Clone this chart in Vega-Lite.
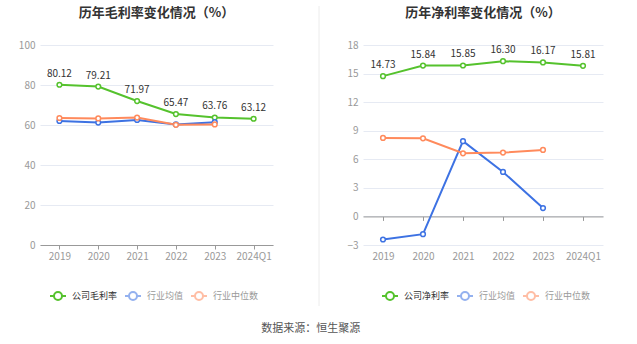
{
  "$schema": "https://vega.github.io/schema/vega-lite/v6.json",
  "padding": {"left": 18, "top": 5, "right": 5, "bottom": 5},
  "background": "white",
  "config": {
    "font": "Noto Sans CJK SC",
    "view": {"stroke": null},
    "axis": {"labelColor": "#999", "labelFontSize": 10, "gridColor": "#e6eaf3", "domainColor": "#999", "tickColor": "#999"},
    "title": {"fontSize": 13, "fontWeight": "bold", "color": "#333", "offset": 20},
    "legend": {
      "orient": "none", "direction": "horizontal", "title": null, "labelFontSize": 9, "labelColor": "#333",
      "symbolStrokeWidth": 2, "symbolSize": 256, "columnPadding": 3, "labelOffset": 5,
      "symbolType": "M-1,0L-0.5,0M0.5,0L1,0M-0.5,0A0.5,0.5,0,1,1,0.5,0A0.5,0.5,0,1,1,-0.5,0"
    }
  },
  "datasets": {
    "gross": [
      {"year": "2019", "series": "公司毛利率", "value": 80.12},
      {"year": "2020", "series": "公司毛利率", "value": 79.21},
      {"year": "2021", "series": "公司毛利率", "value": 71.97},
      {"year": "2022", "series": "公司毛利率", "value": 65.47},
      {"year": "2023", "series": "公司毛利率", "value": 63.76},
      {"year": "2024Q1", "series": "公司毛利率", "value": 63.12},
      {"year": "2019", "series": "行业均值", "value": 62.0},
      {"year": "2020", "series": "行业均值", "value": 61.2},
      {"year": "2021", "series": "行业均值", "value": 62.5},
      {"year": "2022", "series": "行业均值", "value": 60.3},
      {"year": "2023", "series": "行业均值", "value": 61.4},
      {"year": "2019", "series": "行业中位数", "value": 63.5},
      {"year": "2020", "series": "行业中位数", "value": 63.3},
      {"year": "2021", "series": "行业中位数", "value": 63.7},
      {"year": "2022", "series": "行业中位数", "value": 60.1},
      {"year": "2023", "series": "行业中位数", "value": 60.3}
    ],
    "net": [
      {"year": "2019", "series": "公司净利率", "value": 14.73},
      {"year": "2020", "series": "公司净利率", "value": 15.84},
      {"year": "2021", "series": "公司净利率", "value": 15.85},
      {"year": "2022", "series": "公司净利率", "value": 16.30},
      {"year": "2023", "series": "公司净利率", "value": 16.17},
      {"year": "2024Q1", "series": "公司净利率", "value": 15.81},
      {"year": "2019", "series": "行业均值", "value": -2.42},
      {"year": "2020", "series": "行业均值", "value": -1.86},
      {"year": "2021", "series": "行业均值", "value": 7.9},
      {"year": "2022", "series": "行业均值", "value": 4.67},
      {"year": "2023", "series": "行业均值", "value": 0.88},
      {"year": "2019", "series": "行业中位数", "value": 8.24},
      {"year": "2020", "series": "行业中位数", "value": 8.2},
      {"year": "2021", "series": "行业中位数", "value": 6.63},
      {"year": "2022", "series": "行业中位数", "value": 6.7},
      {"year": "2023", "series": "行业中位数", "value": 6.98}
    ]
  },
  "title": {"text": "数据来源：恒生聚源", "orient": "bottom", "anchor": "middle", "fontSize": 11, "fontWeight": "normal", "color": "#555", "offset": 16},
  "resolve": {"scale": {"color": "independent", "x": "independent", "y": "independent"}, "legend": {"color": "independent"}},
  "spacing": 26,
  "hconcat": [
    {
      "title": {"text": "历年毛利率变化情况（%）"},
      "width": 233, "height": 200,
      "data": {"name": "gross"},
      "encoding": {
        "x": {"field": "year", "type": "ordinal", "title": null, "sort": null,
              "axis": {"labelAngle": 0, "tickSize": 4, "labelPadding": 2, "grid": false}},
        "y": {"field": "value", "type": "quantitative", "title": null,
              "scale": {"domain": [0, 100]},
              "axis": {"values": [0, 20, 40, 60, 80, 100], "domain": false, "ticks": false, "tickSize": 0, "labelPadding": 5}}
      },
      "layer": [
        {
          "mark": {"type": "line", "strokeWidth": 2, "point": {"filled": false, "fill": "white", "size": 22, "strokeWidth": 1.5}},
          "encoding": {
            "color": {"field": "series", "type": "nominal",
                      "scale": {"domain": ["公司毛利率", "行业均值", "行业中位数"], "range": ["#55c22d", "#3d72e3", "#ff8a5c"]},
                      "legend": {"legendX": 9, "legendY": 242, "encode": {
                        "labels": {"update": {"fill": {"signal": "datum.value === '公司毛利率' ? '#333' : '#999'"}}},
                        "symbols": {"update": {"opacity": {"signal": "datum.value === '公司毛利率' ? 1 : 0.55"}, "fill": {"value": "white"}}}
                      }}}
          }
        },
        {
          "transform": [{"filter": "datum.series === '公司毛利率'"}],
          "mark": {"type": "text", "dy": -11, "fontSize": 10, "color": "#333"},
          "encoding": {"text": {"field": "value", "type": "quantitative", "format": ".2f"}}
        }
      ]
    },
    {
      "width": 20, "height": 200,
      "data": {"values": [{"pos": 1, "top": 1.195, "bottom": -0.305}]},
      "mark": {"type": "rule", "color": "#ececec", "strokeWidth": 1},
      "encoding": {
        "x": {"field": "pos", "type": "quantitative", "scale": {"domain": [0, 1]}, "axis": null},
        "y": {"field": "bottom", "type": "quantitative", "scale": {"domain": [0, 1]}, "axis": null},
        "y2": {"field": "top"}
      }
    },
    {
      "title": {"text": "历年净利率变化情况（%）"},
      "width": 240, "height": 200,
      "data": {"name": "net"},
      "encoding": {
        "x": {"field": "year", "type": "ordinal", "title": null, "sort": null,
              "axis": {"labelAngle": 0, "tickSize": 4, "labelPadding": 30.6, "offset": -28.57, "grid": false}},
        "y": {"field": "value", "type": "quantitative", "title": null,
              "scale": {"domain": [-3, 18]},
              "axis": {"values": [-3, 0, 3, 6, 9, 12, 15, 18], "domain": false, "ticks": false, "tickSize": 0, "labelPadding": 5}}
      },
      "layer": [
        {
          "mark": {"type": "line", "strokeWidth": 2, "point": {"filled": false, "fill": "white", "size": 22, "strokeWidth": 1.5}},
          "encoding": {
            "color": {"field": "series", "type": "nominal",
                      "scale": {"domain": ["公司净利率", "行业均值", "行业中位数"], "range": ["#55c22d", "#3d72e3", "#ff8a5c"]},
                      "legend": {"legendX": 18, "legendY": 242, "encode": {
                        "labels": {"update": {"fill": {"signal": "datum.value === '公司净利率' ? '#333' : '#999'"}}},
                        "symbols": {"update": {"opacity": {"signal": "datum.value === '公司净利率' ? 1 : 0.55"}, "fill": {"value": "white"}}}
                      }}}
          }
        },
        {
          "transform": [{"filter": "datum.series === '公司净利率'"}],
          "mark": {"type": "text", "dy": -11, "fontSize": 10, "color": "#333"},
          "encoding": {"text": {"field": "value", "type": "quantitative", "format": ".2f"}}
        }
      ]
    }
  ]
}
